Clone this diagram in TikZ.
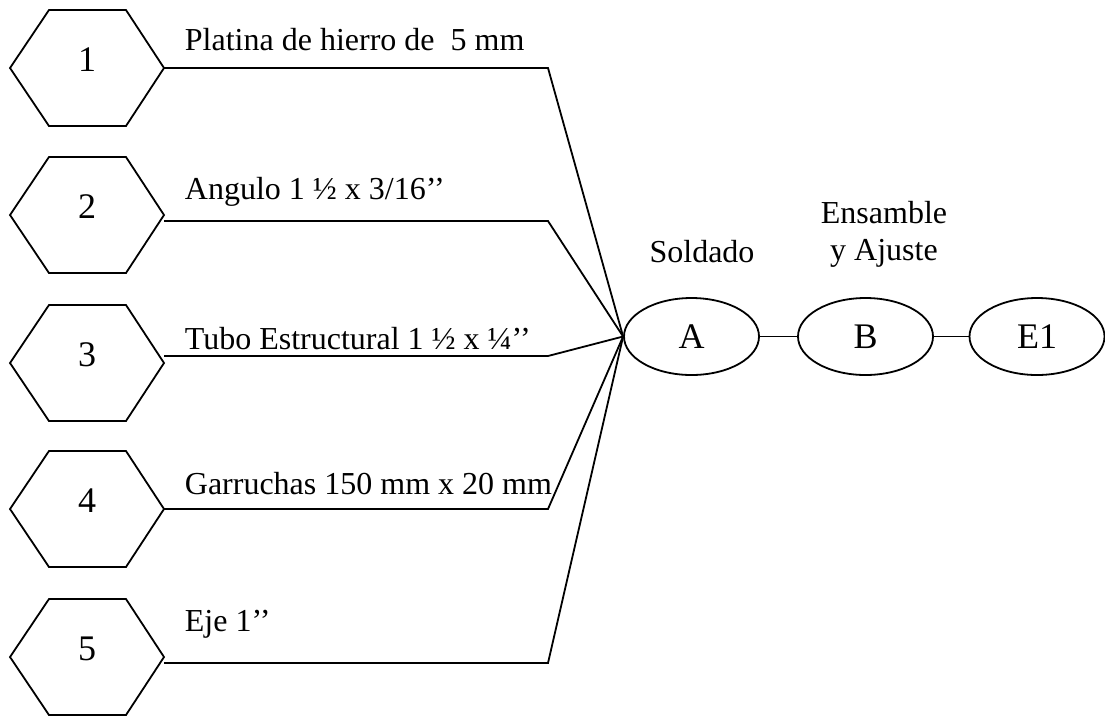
\documentclass[tikz,border=0pt]{standalone}
\usepackage{fontspec}
\setmainfont{Liberation Serif}
\usetikzlibrary{shapes.geometric}
\begin{document}
\begin{tikzpicture}[x=1pt,y=-1pt, line width=1.8pt, line join=miter]
\tikzset{
  lbl/.style={anchor=base west, inner sep=0pt, font=\fontsize{32}{38}\selectfont},
  captxt/.style={anchor=base, inner sep=0pt, font=\fontsize{32}{38}\selectfont},
  numtxt/.style={inner sep=0pt, font=\fontsize{36}{43}\selectfont},
  oval/.style={draw, ellipse, minimum width=135pt, minimum height=77pt, inner sep=0pt, font=\fontsize{36}{43}\selectfont},
  conn/.style={draw}
}
\useasboundingbox (0,0) rectangle (1105,716);
% hexagons
\foreach \i/\cy/\ly in {1/68/68, 2/215/221, 3/363/356, 4/509/509, 5/657/663} {
  \draw (10,\cy) -- (49,\cy-58) -- (126,\cy-58) -- (164,\cy) -- (126,\cy+58) -- (49,\cy+58) -- cycle;
  \node[numtxt] (h\i) at (87,\cy-8) {\i};
  \coordinate (o\i) at (164,\ly);
  \coordinate (k\i) at (548,\ly);
}
% ovals
\node[oval] (A) at (691.5,336.5) {A};
\node[oval] (B) at (865.5,336.5) {B};
\node[oval] (E) at (1037,336.5) {E1};
% labels
\node[lbl] (t1) at (184,50) {Platina de hierro de\ \ 5 mm};
\node[lbl] (t2) at (184,199) {Angulo 1 ½ x 3/16’’};
\node[lbl] (t3) at (184,349) {Tubo Estructural 1 ½ x ¼’’};
\node[lbl] (t4) at (184,494) {Garruchas 150 mm x 20 mm};
\node[lbl] (t5) at (184,631) {Eje 1’’};
\node[captxt] (sA) at (702,262) {Soldado};
\node[captxt] (sB1) at (884,223) {Ensamble};
\node[captxt] (sB2) at (884,260) {y Ajuste};
% connectors
\foreach \i in {1,...,5} {
  \draw (o\i) -- (k\i) -- (A.west);
}
\draw (A.east) -- (B.west);
\draw (B.east) -- (E.west);
\end{tikzpicture}
\end{document}
